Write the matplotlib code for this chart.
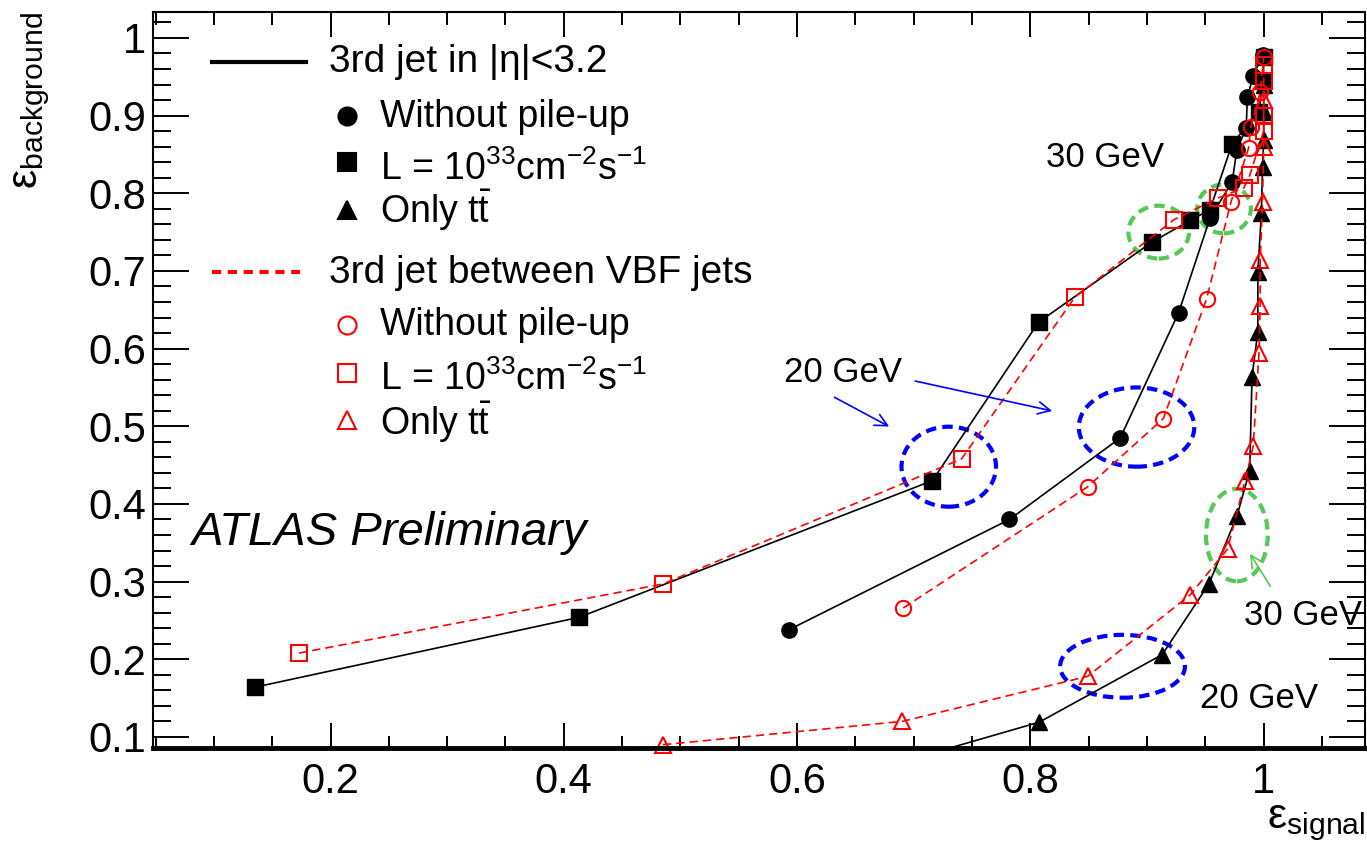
import matplotlib
matplotlib.use("Agg")
import matplotlib.pyplot as plt
from matplotlib.patches import Ellipse
from matplotlib.ticker import MultipleLocator, FuncFormatter

plt.rcParams['font.family'] = ['Liberation Sans', 'DejaVu Sans']
plt.rcParams['mathtext.fontset'] = 'custom'
plt.rcParams['mathtext.rm'] = 'Liberation Sans'
plt.rcParams['mathtext.it'] = 'Liberation Sans:italic'

# 3rd jet in |eta|<3.2 (black, solid)
eta_nopu_x = [0.593, 0.782, 0.877, 0.927, 0.954, 0.973, 0.977, 0.985, 0.986, 0.991, 0.999]
eta_nopu_y = [0.238, 0.380, 0.485, 0.646, 0.768, 0.815, 0.856, 0.884, 0.924, 0.951, 0.978]
eta_lumi_x = [0.135, 0.413, 0.716, 0.807, 0.904, 0.937, 0.954, 0.973, 0.996, 0.999, 1.0]
eta_lumi_y = [0.164, 0.254, 0.430, 0.634, 0.737, 0.765, 0.779, 0.864, 0.905, 0.945, 0.975]
eta_tt_x = [0.66, 0.8075, 0.913, 0.953, 0.977, 0.988, 0.990, 0.995, 0.995, 0.998, 0.999, 1.0, 1.0, 1.0]
eta_tt_y = [0.055, 0.119, 0.206, 0.297, 0.384, 0.443, 0.564, 0.622, 0.699, 0.774, 0.834, 0.868, 0.905, 0.94]

# 3rd jet between VBF jets (red, dashed)
vbf_nopu_x = [0.691, 0.849, 0.914, 0.951, 0.972, 0.987, 0.989, 0.997, 1.0]
vbf_nopu_y = [0.266, 0.422, 0.510, 0.664, 0.789, 0.858, 0.886, 0.930, 0.975]
vbf_lumi_x = [0.173, 0.485, 0.741, 0.838, 0.923, 0.961, 0.983, 0.988, 1.0, 1.0, 1.0, 1.0]
vbf_lumi_y = [0.208, 0.297, 0.458, 0.666, 0.766, 0.794, 0.807, 0.823, 0.880, 0.900, 0.945, 0.965]
vbf_tt_x = [0.485, 0.690, 0.849, 0.937, 0.969, 0.984, 0.991, 0.996, 0.997, 0.997, 0.999, 1.0, 1.0]
vbf_tt_y = [0.090, 0.120, 0.178, 0.283, 0.342, 0.430, 0.474, 0.595, 0.655, 0.714, 0.789, 0.860, 0.920]

GREEN = '#55c855'
dash = (0, (5, 3))

fig = plt.figure(figsize=(13.67, 8.47), dpi=100)
ax = fig.add_axes([0.1119, 0.1169, 0.8866, 0.8690])

ax.plot(eta_lumi_x, eta_lumi_y, '-', color='black', lw=1.2, marker='s', ms=11)
ax.plot(eta_nopu_x, eta_nopu_y, '-', color='black', lw=1.2, marker='o', ms=11)
ax.plot(eta_tt_x, eta_tt_y, '-', color='black', lw=1.2, marker='^', ms=12)
ax.plot(vbf_lumi_x, vbf_lumi_y, color='red', ls=dash, lw=1.2, marker='s', ms=11,
        mfc='none', mec='red', mew=1.5)
ax.plot(vbf_nopu_x, vbf_nopu_y, color='red', ls=dash, lw=1.2, marker='o', ms=11,
        mfc='none', mec='red', mew=1.5)
ax.plot(vbf_tt_x, vbf_tt_y, color='red', ls=dash, lw=1.2, marker='^', ms=12,
        mfc='none', mec='red', mew=1.5, clip_on=False)

ax.set_xlim(0.0478, 1.0868)
ax.set_ylim(0.0858, 1.0335)

# cut regions
ell_dash = (0, (2.5, 1.5))
for cx, cy, w, h, col in [(0.910, 0.750, 0.052, 0.068, GREEN),
                          (0.966, 0.780, 0.046, 0.063, GREEN),
                          (0.977, 0.360, 0.053, 0.119, GREEN),
                          (0.730, 0.448, 0.081, 0.103, 'blue'),
                          (0.891, 0.499, 0.099, 0.102, 'blue'),
                          (0.879, 0.191, 0.107, 0.081, 'blue')]:
    ax.add_patch(Ellipse((cx, cy), w, h, fill=False, ec=col, lw=3, ls=ell_dash))

ax.text(0.639, 0.569, '20 GeV', fontsize=25, ha='center', va='center')
ax.annotate('', xy=(0.681, 0.498), xytext=(0.630, 0.539),
            arrowprops=dict(arrowstyle='->', color='blue', lw=1.2, mutation_scale=22))
ax.annotate('', xy=(0.821, 0.519), xytext=(0.699, 0.559),
            arrowprops=dict(arrowstyle='->', color='blue', lw=1.2, mutation_scale=22))
ax.text(0.864, 0.846, '30 GeV', fontsize=25, ha='center', va='center')
ax.annotate('', xy=(0.987, 0.339), xytext=(1.007, 0.291),
            arrowprops=dict(arrowstyle='->', color=GREEN, lw=1.2, mutation_scale=22))
ax.text(1.034, 0.257, '30 GeV', fontsize=25, ha='center', va='center')
ax.text(0.996, 0.149, '20 GeV', fontsize=25, ha='center', va='center')

ax.text(0.081, 0.363, 'ATLAS Preliminary', fontsize=34, style='italic',
        ha='left', va='center')

# legend
tr = ax.transAxes
ax.plot([0.0487, 0.1262], [0.932, 0.932], color='black', lw=3, transform=tr)
ax.text(0.145, 0.918, '3rd jet in |η|<3.2', fontsize=28, transform=tr, va='baseline')
ax.plot([0.0487, 0.121], [0.647, 0.647], color='red', lw=3, ls=(0, (2.2, 1.6)), transform=tr)
ax.text(0.145, 0.632, '3rd jet between VBF jets', fontsize=28, transform=tr, va='baseline')

lumi_txt = r'L = 10$^{33}$cm$^{-2}$s$^{-1}$'
tt_txt = r'Only t$\bar{\mathrm{t}}$'
entries = [('o', 'black', 0.859, 0.844, 'Without pile-up'),
           ('s', 'black', 0.796, 0.772, lumi_txt),
           ('^', 'black', 0.731, 0.713, tt_txt),
           ('o', 'red', 0.575, 0.561, 'Without pile-up'),
           ('s', 'red', 0.510, 0.486, lumi_txt),
           ('^', 'red', 0.446, 0.425, tt_txt)]
for m, col, my, ty, label in entries:
    fc = col if col == 'black' else 'none'
    ax.plot([0.160], [my], marker=m, ms=13, mfc=fc, mec=col, mew=1.5,
            ls='none', transform=tr)
    ax.text(0.187, ty, label, fontsize=27, transform=tr, va='baseline')

# ROOT-like frame
ax.xaxis.set_major_locator(MultipleLocator(0.2))
ax.xaxis.set_minor_locator(MultipleLocator(0.05))
ax.yaxis.set_major_locator(MultipleLocator(0.1))
ax.yaxis.set_minor_locator(MultipleLocator(0.02))
fmt = FuncFormatter(lambda v, p: '{:g}'.format(round(v, 3)))
ax.xaxis.set_major_formatter(fmt)
ax.yaxis.set_major_formatter(fmt)
ax.tick_params(axis='x', which='major', direction='in', length=18, width=1.4,
               top=True, labelsize=30, pad=10)
ax.tick_params(axis='x', which='minor', direction='in', length=9, width=1.4, top=True)
ax.tick_params(axis='y', which='major', direction='in', length=26, width=1.4,
               right=True, labelsize=30, pad=5)
ax.tick_params(axis='y', which='minor', direction='in', length=13, width=1.4, right=True)
for s in ['left', 'top', 'right']:
    ax.spines[s].set_linewidth(1.5)
ax.spines['bottom'].set_linewidth(3.5)

fig.text(32 / 1367, 1 - 12 / 847, r'$\mathrm{ε}_{\mathrm{background}}$', fontsize=31,
         rotation=90, ha='center', va='top')
fig.text(1365 / 1367, 4 / 847, r'$\mathrm{ε}_{\mathrm{signal}}$', fontsize=31,
         ha='right', va='bottom')

fig.savefig('out.png', dpi=100)
